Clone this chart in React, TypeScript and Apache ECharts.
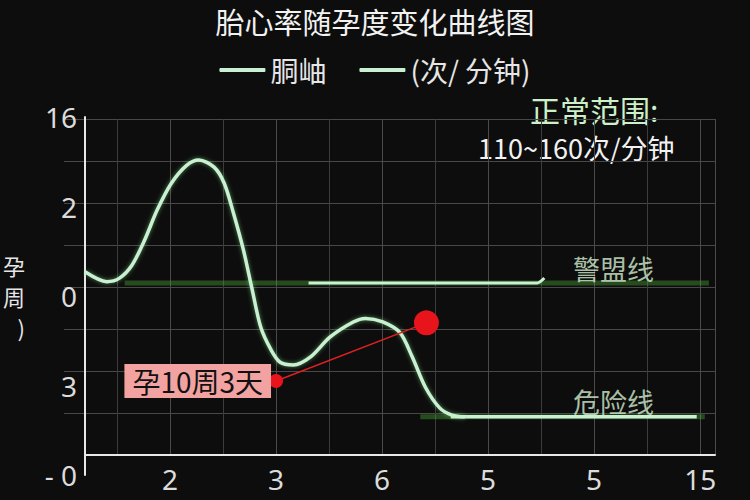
import { useEffect, useRef } from "react";
import * as echarts from "echarts";

// curve: x in axis units, y in axis units
const curveX = [0, 0.215, 0.34, 0.46, 0.585, 0.71, 0.85, 1.0, 1.12, 1.27, 1.37, 1.46, 1.56, 1.64, 1.73, 1.83, 1.92, 2.05, 2.22, 2.41, 2.64, 2.76, 2.93, 3.1, 3.22, 3.35, 3.49, 3.61, 3.74];
const curveY = [2.27, 2.16, 2.2, 2.34, 2.62, 2.96, 3.26, 3.46, 3.52, 3.44, 3.26, 2.93, 2.51, 2.1, 1.65, 1.4, 1.26, 1.23, 1.32, 1.54, 1.71, 1.75, 1.71, 1.59, 1.32, 0.98, 0.75, 0.67, 0.65];

const warnX = [2.2, 4.45, 4.52];
const warnY = [2.145, 2.145, 2.2];
const warnGlowX = [0.39, 6.14];
const dangerX = [3.6, 6.02];
const dangerGlowX = [3.3, 6.1];
const warnLevel = 2.145;
const dangerLevel = 0.65;

const markX = [1.88, 3.36];
const markY = [1.05, 1.7];
const markText = "孕10周3天";

const yLabels = ["- 0", "3", "0", "2", "16"];
const xLabels = ["2", "3", "6", "5", "5", "15"];
const legendNames = ["胴岫", "(次/ 分钟)"];

const CJK = "'Noto Sans CJK SC', 'Noto Sans', sans-serif";
const MINT = "#c9f0d2";
const GLOW = "rgba(80,175,55,0.38)";

const zip = (xs: number[], ys: number[]) => xs.map((x, i) => [x, ys[i]]);

const App = () => {
  const chartRef = useRef<HTMLDivElement>(null);

  useEffect(() => {
    document.body.style.margin = "0";
    if (!chartRef.current) return;
    const chart = echarts.init(chartRef.current, null, { renderer: "svg" });

    // flat lines have a zero-height box, so no shadow filter here
    const glowStyle = { color: GLOW, width: 5 };

    const option: echarts.EChartsOption = {
      animation: false,
      backgroundColor: "#0d0d0d",
      title: {
        text: "胎心率随孕度变化曲线图",
        left: "center",
        top: 1,
        textStyle: { color: "#f2f2f2", fontSize: 29, fontWeight: "normal", fontFamily: CJK },
      },
      legend: {
        data: legendNames,
        top: 51,
        left: "center",
        icon: "roundRect",
        itemWidth: 46,
        itemHeight: 4,
        itemGap: 33,
        textStyle: { color: "#e6e6e6", fontSize: 28, fontFamily: CJK },
      },
      grid: [
        { left: 80, right: 35, top: 117, bottom: 25 },
        { left: 64, right: 35, top: 119, bottom: 45 },
      ],
      xAxis: [
        {
          type: "value",
          gridIndex: 0,
          min: 0,
          max: 6.2,
          offset: -20,
          axisLine: { show: true, onZero: false, lineStyle: { color: "#e8e8e8", width: 2 } },
          axisTick: { show: false },
          axisLabel: { show: false },
          splitLine: { show: false },
        },
        {
          type: "value",
          gridIndex: 1,
          min: 0,
          max: 6.14,
          interval: 1,
          axisLine: { show: false },
          axisTick: { show: false },
          axisLabel: {
            color: "#dcdcdc",
            fontSize: 28,
            fontFamily: "'Noto Sans', sans-serif",
            margin: 10,
            formatter: (v: number) => xLabels[v - 1] ?? "",
          },
          splitLine: { show: true, showMinLine: false, lineStyle: { color: "#4a4a4a", width: 1 } },
          minorTick: { show: false, splitNumber: 2 },
          minorSplitLine: { show: true, lineStyle: { color: "#3c3c3c", width: 1 } },
        },
      ],
      yAxis: [
        {
          type: "value",
          gridIndex: 0,
          min: 0,
          max: 4,
          interval: 1,
          name: "孕\n周\n)",
          nameLocation: "middle",
          nameRotate: 0,
          nameGap: 60,
          nameTextStyle: { color: "#e6e6e6", fontSize: 22, fontFamily: CJK, lineHeight: 31 },
          axisLine: { show: true, lineStyle: { color: "#e8e8e8", width: 2 } },
          axisTick: { show: false },
          axisLabel: {
            color: "#dcdcdc",
            fontSize: 28,
            fontFamily: "'Noto Sans', sans-serif",
            margin: 8,
            formatter: (v: number) => yLabels[v] ?? "",
          },
          splitLine: { show: false },
        },
        {
          type: "value",
          gridIndex: 1,
          min: 0,
          max: 8,
          interval: 1,
          axisLine: { show: false },
          axisTick: { show: false },
          axisLabel: { show: false },
          splitLine: { show: true, showMinLine: false, lineStyle: { color: "#484848", width: 1 } },
        },
      ],
      graphic: [
        {
          type: "text",
          left: 530,
          top: 94,
          style: { text: "正常范围:", fill: "#cdf0c8", fontSize: 30, fontFamily: CJK },
        },
        {
          type: "text",
          left: 478,
          top: 134,
          style: { text: "110~160次/分钟", fill: "#f2f2f2", fontSize: 27, fontFamily: CJK },
        },
      ],
      series: [
        {
          name: "warnGlow",
          type: "line",
          data: warnGlowX.map((x) => [x, warnLevel]),
          showSymbol: false,
          lineStyle: glowStyle,
          z: 1,
        },
        {
          name: "dangerGlow",
          type: "line",
          data: dangerGlowX.map((x) => [x, dangerLevel]),
          showSymbol: false,
          lineStyle: glowStyle,
          z: 1,
        },
        {
          name: legendNames[1],
          type: "line",
          data: zip(warnX, warnY),
          smooth: 0.3,
          showSymbol: false,
          itemStyle: { color: MINT },
          lineStyle: { color: MINT, width: 3 },
          z: 2,
        },
        {
          name: "danger",
          type: "line",
          data: dangerX.map((x) => [x, dangerLevel]),
          showSymbol: false,
          lineStyle: { color: MINT, width: 3.5 },
          z: 2,
        },
        {
          name: legendNames[0],
          type: "line",
          data: zip(curveX, curveY),
          smooth: 0.3,
          showSymbol: false,
          itemStyle: { color: MINT },
          lineStyle: { color: MINT, width: 3.5, shadowBlur: 4, shadowColor: "rgba(120,220,120,0.6)" },
          z: 3,
        },
        {
          name: "tags",
          type: "scatter",
          symbolSize: 1,
          itemStyle: { color: "transparent" },
          data: [
            [5.2, warnLevel, "警盟线"],
            [5.2, dangerLevel, "危险线"],
          ],
          label: {
            show: true,
            position: "top",
            distance: 1,
            formatter: (p: any) => p.value[2],
            color: "#d6f0d2",
            fontSize: 27,
            fontFamily: CJK,
          },
          z: 4,
        },
        {
          name: "mark",
          type: "line",
          data: [
            {
              value: [markX[0], markY[0]],
              symbolSize: 14,
              label: {
                show: true,
                position: "left",
                distance: -2,
                formatter: markText,
                backgroundColor: "#f2a3a1",
                color: "#111",
                fontSize: 28,
                fontFamily: CJK,
                padding: [3, 8],
              },
            },
            { value: [markX[1], markY[1]], symbolSize: 25 },
          ],
          symbol: "circle",
          itemStyle: { color: "#e8141c" },
          lineStyle: { color: "#e02020", width: 1.5 },
          z: 5,
        },
      ],
    };

    chart.setOption(option);
    return () => chart.dispose();
  }, []);

  return <div ref={chartRef} style={{ width: 750, height: 500 }} />;
};

export default App;
